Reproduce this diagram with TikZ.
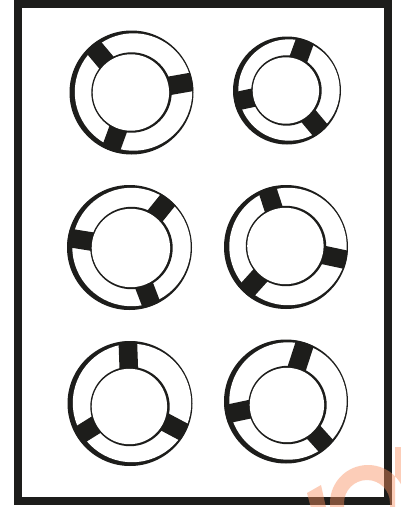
\documentclass[tikz,border=0pt]{standalone}
\definecolor{ink}{RGB}{29,29,27}
\definecolor{wm}{RGB}{250,143,95}
% #1,#2 outer centre; #3 outer radius; #4,#5 inner centre; #6 inner radius; #7-#9 band angles
\newcommand{\buoy}[9]{%
  \fill[ink] (#1,#2) circle (#3);
  \fill[white] (#1+2,#2-0.5) circle (#3-3.3);
  \begin{scope}
    \clip (#1,#2) circle (#3-0.3);
    \foreach \a in {#7,#8,#9}{
      \fill[ink,shift={(#1,#2)},rotate=\a] (15,-9.3) rectangle (#3+5,9.3);
    }
  \end{scope}
  \fill[ink] (#4,#5) circle (#6+1.2);
  \fill[white] (#4-0.6,#5) circle (#6-0.8);
}
\begin{document}
\begin{tikzpicture}[x=1pt,y=-1pt]
\useasboundingbox (0,0) rectangle (401,507);
\fill[white] (0,0) rectangle (401,507);
% frame
\draw[ink,line width=8pt,line join=miter] (18,3.5) rectangle (388,501);
% six lifebuoys
\buoy{131.5}{92.5}{62}{131.5}{92.5}{39}{10}{130}{250}
\buoy{287}{90.5}{54}{286.5}{90.5}{34}{70}{192}{310}
\buoy{129.5}{247.5}{62.5}{131.5}{248}{40}{51}{171}{291}
\buoy{286}{247}{62}{286}{246}{39}{108}{228}{348}
\buoy{130}{403.5}{62.5}{130}{406.5}{38.5}{92}{212}{332}
\buoy{286}{401.5}{62}{287.5}{405}{38}{72}{192}{312}
% watermark fragment
\fill[wm,opacity=0.44]
  (307,493) -- (321,485) -- (327,512) -- (312,512) -- cycle
  (330,512) -- (330,503) arc[start angle=180,end angle=360,radius=38]
  -- (406,512) -- (390,512) -- (390,503) arc[start angle=0,end angle=-180,radius=23]
  -- (344,512) -- cycle
  (395,447) rectangle (403,512);
\end{tikzpicture}
\end{document}
